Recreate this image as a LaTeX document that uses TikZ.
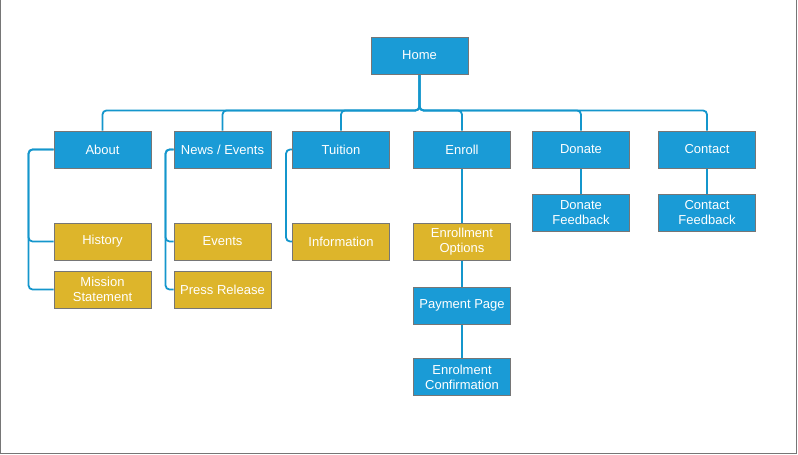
\documentclass[tikz,border=0pt]{standalone}
\usepackage{fontspec}
\setmainfont{Liberation Sans}
\usetikzlibrary{backgrounds}
\definecolor{pageblue}{RGB}{26,155,214}
\definecolor{pagegold}{RGB}{221,181,43}
\definecolor{linkblue}{RGB}{20,150,204}
\definecolor{edgegray}{RGB}{118,118,118}
\tikzset{
	page/.style={draw=edgegray, line width=0.9pt, fill=pageblue, text=white,
		minimum width=97pt, minimum height=37pt, inner sep=1pt, align=center,
		font=\fontsize{13}{15}\selectfont},
	subpage/.style={page, fill=pagegold},
	link/.style={draw=linkblue, line width=1.8pt, rounded corners=4pt}
}

\begin{document}
\begin{tikzpicture}[x=1pt, y=-1pt]
	\useasboundingbox (0,0) rectangle (798,455);
	\draw[edgegray, line width=1.3pt] (0.6,0) -- (0.6,453.8) -- (796.8,453.8) -- (796.8,0);

	% top level
	\node[page] (home) at (419.5,55.5) {Home};
	\node[page] (about) at (102.5,149.5) {About};
	\node[page] (news) at (222.5,149.5) {News / Events};
	\node[page] (tuition) at (341,149.5) {Tuition};
	\node[page] (enroll) at (462,149.5) {Enroll};
	\node[page] (donate) at (581,149.5) {Donate};
	\node[page] (contact) at (707,149.5) {Contact};

	% second level
	\node[subpage] (history) at (102.5,241.5) {History};
	\node[subpage] (mission) at (102.5,289.5) {Mission\\Statement};
	\node[subpage] (events) at (222.5,241.5) {Events};
	\node[subpage] (press) at (222.5,289.5) {Press Release};
	\node[subpage] (info) at (341,241.5) {Information};
	\node[subpage] (options) at (462,241.5) {Enrollment\\Options};
	\node[page] (payment) at (462,305.5) {Payment Page};
	\node[page] (confirm) at (462,377) {Enrolment\\Confirmation};
	\node[page] (donatefb) at (581,212.5) {Donate\\Feedback};
	\node[page] (contactfb) at (707,212.5) {Contact\\Feedback};

	% connectors behind the boxes
	\begin{scope}[on background layer]
	\foreach \child in {about,news,tuition,enroll,donate,contact}
		\path[link] (home.south) -- ++(0,36) -| (\child.north);
	\path[link] (about.west) -- ++(-25,0) |- (history.west);
	\path[link] (about.west) -- ++(-25,0) |- (mission.west);
	\path[link] (news.west) -- ++(-8,0) |- (events.west);
	\path[link] (news.west) -- ++(-8,0) |- (press.west);
	\path[link] (tuition.west) -- ++(-6,0) |- (info.west);
	\path[link] (enroll) -- (options);
	\path[link] (options) -- (payment);
	\path[link] (payment) -- (confirm);
	\path[link] (donate) -- (donatefb);
	\path[link] (contact) -- (contactfb);
	\end{scope}
\end{tikzpicture}
\end{document}
